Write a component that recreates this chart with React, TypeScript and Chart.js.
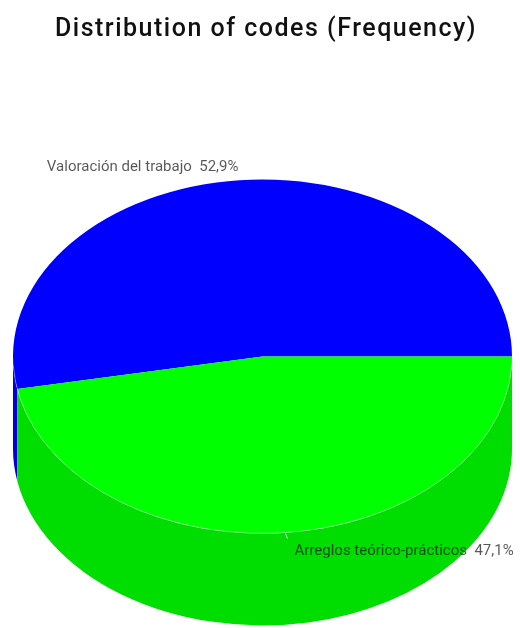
import React, { useEffect, useRef } from "react";
import { Chart, registerables } from "chart.js";

Chart.register(...registerables);

const TITLE = "Distribution of codes (Frequency)";
const categories = ["Valoración del trabajo", "Arreglos teórico-prácticos"];
const frequencies = [9, 8];
const topColors = ["#0000ff", "#00ff00"];
const sideColors = ["#0000dd", "#00dd00"];

// 3D projection settings
const CX = 262.5;
const CY = 356.5;
const RADIUS = 249.5;
const SY = 0.709;
const DEPTH = 92;

const total = frequencies.reduce((a, b) => a + b, 0);
const pct = (v: number) => ((v / total) * 100).toFixed(1).replace(".", ",") + "%";

const TWO_PI = Math.PI * 2;

const pie3d = {
  id: "pie3d",
  beforeDraw(chart: any) {
    (chart.ctx as any).letterSpacing = "1.5px";
  },
  beforeDatasetsDraw(chart: any) {
    const meta = chart.getDatasetMeta(0);
    const arcs = meta.data;
    const ctx = chart.ctx;
    (ctx as any).letterSpacing = "0px";
    ctx.save();
    if (!arcs.length) return;
    const { x, y, outerRadius: r } = arcs[0];
    ctx.translate(CX, CY);
    ctx.scale(1, SY);
    ctx.translate(-x, -y);
    const du = DEPTH / SY;
    arcs.forEach((arc: any, i: number) => {
      const s = arc.startAngle;
      const e = arc.endAngle;
      for (let k = -3; k <= 3; k++) {
        const a0 = Math.max(s, k * TWO_PI);
        const a1 = Math.min(e, k * TWO_PI + Math.PI);
        if (a1 > a0) {
          ctx.beginPath();
          ctx.arc(x, y, r, a0, a1);
          ctx.arc(x, y + du, r, a1, a0, true);
          ctx.closePath();
          ctx.fillStyle = sideColors[i];
          ctx.fill();
        }
      }
    });
  },
  afterDatasetsDraw(chart: any) {
    const ctx = chart.ctx;
    ctx.restore();
    const meta = chart.getDatasetMeta(0);
    const arcs = meta.data;
    if (!arcs.length) return;
    // front edge highlight
    ctx.save();
    ctx.beginPath();
    ctx.ellipse(CX, CY, RADIUS, RADIUS * SY, 0, 0.05, Math.PI - 0.05);
    ctx.strokeStyle = "rgba(255,255,255,0.35)";
    ctx.lineWidth = 1;
    ctx.stroke();
    ctx.restore();

    ctx.save();
    ctx.font = "15px Roboto";
    ctx.fillStyle = "rgba(0,0,0,0.66)";
    arcs.forEach((arc: any, i: number) => {
      const mid = (arc.startAngle + arc.endAngle) / 2;
      const r = arc.outerRadius;
      const px = CX + r * Math.cos(mid);
      const py = CY + SY * r * Math.sin(mid);
      const text = categories[i] + "  " + pct(frequencies[i]);
      if (Math.sin(mid) < 0) {
        ctx.textAlign = "right";
        ctx.textBaseline = "alphabetic";
        ctx.fillText(text, px - 1, py - 9);
      } else {
        ctx.strokeStyle = "rgba(255,255,255,0.7)";
        ctx.lineWidth = 1;
        ctx.beginPath();
        ctx.moveTo(px, py + 1);
        ctx.lineTo(px + 2, py + 6);
        ctx.stroke();
        ctx.textAlign = "left";
        ctx.textBaseline = "alphabetic";
        ctx.fillText(text, px + 9, py + 22);
      }
    });
    ctx.restore();
  },
};

export default function App() {
  const ref = useRef<HTMLCanvasElement>(null);
  useEffect(() => {
    if (!ref.current) return;
    const chart = new Chart(ref.current, {
      type: "pie",
      data: {
        labels: categories,
        datasets: [
          {
            data: frequencies,
            backgroundColor: topColors,
            borderWidth: 0,
            radius: RADIUS,
            clip: false,
          } as any,
        ],
      },
      options: {
        animation: false,
        responsive: true,
        maintainAspectRatio: false,
        events: [],
        rotation: 90 + (360 * frequencies[1]) / total,
        layout: { padding: { left: 12, right: 0, top: 0, bottom: 0 } },
        plugins: {
          legend: { display: false },
          tooltip: { enabled: false },
          title: {
            display: true,
            text: TITLE,
            color: "#111",
            font: { family: "Roboto", size: 25, weight: "500" },
            padding: { top: 15, bottom: 20 },
          },
        },
      },
      plugins: [pie3d],
    });
    return () => chart.destroy();
  }, []);
  return (
    <div style={{ position: "fixed", left: 0, top: 0, width: 520, height: 628, background: "#fff" }}>
      <canvas ref={ref} />
    </div>
  );
}
